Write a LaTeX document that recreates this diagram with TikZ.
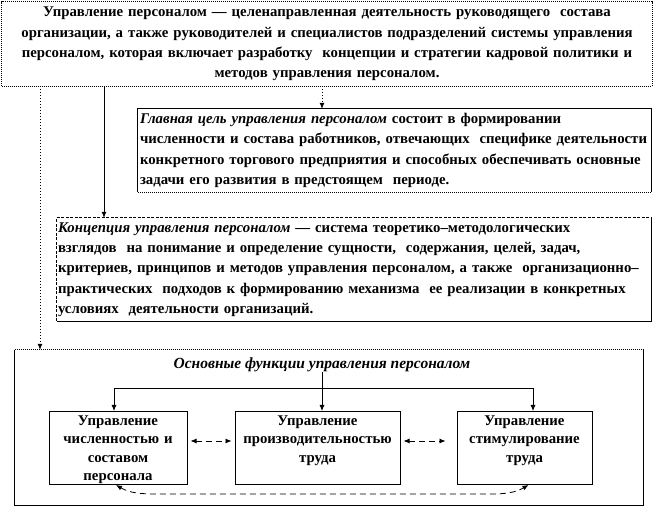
\documentclass[tikz,border=0pt]{standalone}
\usepackage{fontspec}
\setmainfont{Liberation Serif}
\usetikzlibrary{arrows.meta, positioning, calc}

\begin{document}
\begin{tikzpicture}[x=1pt, y=-1pt,
    txt/.style    = {font=\bfseries\fontsize{14.8}{20.3}\selectfont, inner sep=0pt},
    topbox/.style = {txt, rectangle, minimum width=650pt, minimum height=84pt,
                     align=center, text width=646pt},
    goalbox/.style = {txt, rectangle, minimum width=513pt, minimum height=83pt,
                     align=left, text width=509pt},
    conbox/.style = {txt, rectangle, minimum width=594pt, minimum height=103pt,
                     align=left, text width=592pt},
    funcbox/.style = {txt, font=\bfseries\fontsize{14.8}{18.5}\selectfont, draw,
                     line width=1pt, rectangle, align=center,
                     text height=14pt, text depth=59pt, inner ysep=0pt},
    frame/.style  = {line width=1pt},
    dots/.style   = {line width=1pt, dash pattern=on 1pt off 1pt},
    arr/.style    = {-{Latex[length=6pt, width=5pt]}, line width=0.8pt},
    dotarr/.style = {arr, dash pattern=on 1.5pt off 1.5pt},
    darr/.style   = {{Latex[length=6pt, width=5pt]}-{Latex[length=6pt, width=5pt]},
                     line width=0.8pt, dash pattern=on 6pt off 4pt},
]
    \useasboundingbox (0,0) rectangle (654,510);

    % ── Определение (верх) ──
    \node[topbox] (top) at (327, 44) {Управление персоналом — целенаправленная деятельность руководящего \ состава\\
        организации, а также руководителей и специалистов подразделений системы управления\\
        персоналом, которая включает разработку \ концепции и стратегии кадровой политики и\\
        методов управления персоналом.};
    \draw[dots] (top.south west) rectangle (top.north east);

    % ── Главная цель ──
    \node[goalbox] (goal) at (394.5, 150.5) {\textit{Главная цель управления персоналом} состоит в формировании\\
        численности и состава работников, отвечающих \ специфике деятельности\\
        конкретного торгового предприятия и способных обеспечивать основные\\
        задачи его развития в предстоящем \ периоде.};
    \draw[frame] (goal.south west) -- (goal.north west) -- (goal.north east) -- (goal.south east);
    \draw[dots] (goal.south west) -- (goal.south east);

    % ── Концепция ──
    \node[conbox] (con) at (354, 269.5) {\textit{Концепция управления персоналом} — система теоретико–методологических\\
        взглядов \ на понимание и определение сущности, \ содержания, целей, задач,\\
        критериев, принципов и методов управления персоналом, а также \ организационно–\\
        практических \ подходов к формированию механизма \ ее реализации в конкретных\\
        условиях \ деятельности организаций.};
    \draw[frame, dash pattern=on 3pt off 1.5pt] (con.south west) -- (con.north west) -- (con.north east);
    \draw[frame] (con.north east) -- (con.south east) -- (con.south west);

    % ── Основные функции ──
    \node[rectangle, minimum width=628pt, minimum height=155pt] (big) at (329, 427.5) {};
    \draw[dots] (big.north west) -- (big.north east);
    \draw[frame] (big.north east) -- (big.south east) -- (big.south west) -- (big.north west);
    \node[txt, font=\bfseries\fontsize{15.5}{18}\selectfont] (title) at (322, 365)
        {\textit{Основные функции управления персоналом}};

    \node[funcbox, minimum width=138pt, text width=134pt, anchor=north] (left) at (118, 411)
        {Управление\\ численностью и\\ составом\\ персонала};
    \node[funcbox, minimum width=165pt, text width=163pt, anchor=north] (mid) at (317.5, 411)
        {Управление\\ производительностью\\ труда};
    \node[funcbox, minimum width=135pt, text width=131pt, anchor=north] (right) at (524.5, 411)
        {Управление\\ стимулирование\\ труда};

    % ── Связи сверху вниз ──
    \coordinate (d1) at (40, 86);
    \coordinate (d2) at (104, 86);
    \coordinate (d3) at (322, 86);
    \draw[dotarr] (d1) -- (d1 |- big.north);
    \draw[arr] (d2) -- (d2 |- con.north);
    \draw[dotarr] (d3) -- (d3 |- goal.north);

    % ── Разветвление к функциям ──
    \coordinate (jl) at (114, 388);
    \coordinate (jr) at (533, 388);
    \draw[line width=0.8pt] (jl) -- (jr);
    \draw[arr] (title.south) -- (title.south |- mid.north);
    \draw[arr] (jl) -- (jl |- left.north);
    \draw[arr] (jr) -- (jr |- right.north);

    % ── Взаимосвязи функций (пунктир) ──
    \draw[darr] ([xshift=3pt, yshift=7pt]left.east) -- ([xshift=-3pt, yshift=7pt]mid.west);
    \draw[darr] ([xshift=3pt, yshift=7pt]mid.east) -- ([xshift=-11pt, yshift=7pt]right.west);
    \draw[darr] ([xshift=-2pt]left.south) to[out=-30, in=180] ($(left.south)+(40,9)$)
        -- ($(right.south)+(-35,9)$) to[out=0, in=-150] ([xshift=4pt]right.south);
\end{tikzpicture}
\end{document}
